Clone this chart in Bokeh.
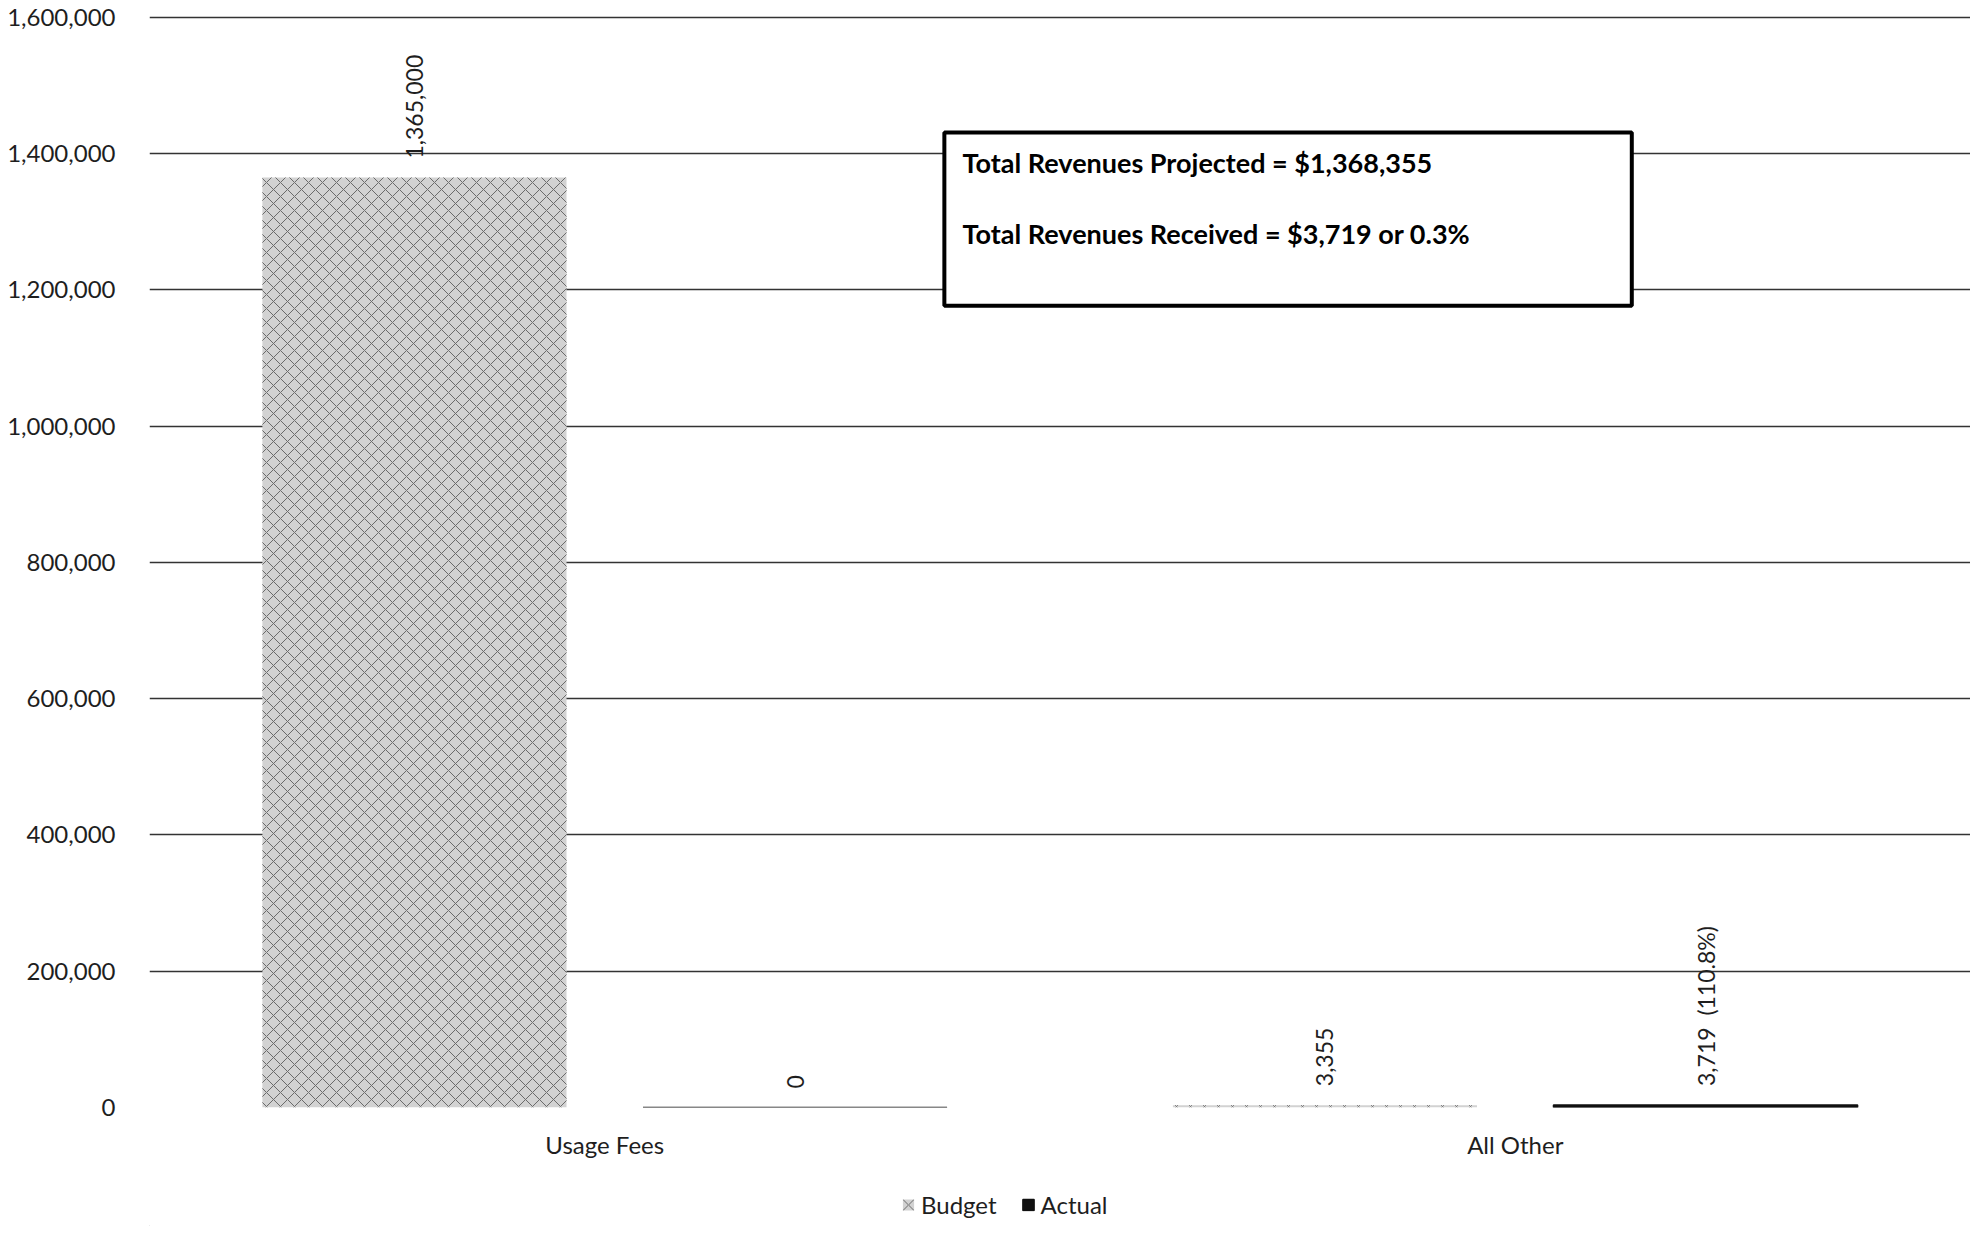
import math
from bokeh.plotting import figure
from bokeh.layouts import column
from bokeh.models import (ColumnDataSource, FactorRange, Range1d, FixedTicker,
                          NumeralTickFormatter, Legend, LegendItem, BoxAnnotation, Label)
from bokeh.transform import dodge
from bokeh.core.properties import value
from bokeh.embed import file_html
from bokeh.resources import INLINE

# ---- data ----
categories = ["Usage Fees", "All Other"]
series_names = ["Budget", "Actual"]
budget = [1365000, 3355]
actual = [0, 3719]
budget_labels = ["1,365,000", "3,355"]
actual_labels = ["0", "3,719\u00a0 (110.8%)"]
y_ticks = [0, 200000, 400000, 600000, 800000, 1000000, 1200000, 1400000, 1600000]
box_lines = ["Total Revenues Projected = $1,368,355",
             "Total Revenues Received = $3,719 or 0.3%"]

FONT = "Lato"
GRID = "#333333"
TXT = "#1e1e1e"

BUDGET_STYLE = dict(fill_color="#d2d2d2", line_color=None,
                    hatch_pattern="diagonal_cross", hatch_color="#6a6a6a",
                    hatch_scale=14, hatch_weight=1)
ACTUAL_STYLE = dict(fill_color="#111111", line_color="#111111", line_width=1.5)

src = ColumnDataSource(dict(cat=categories, budget=budget, actual=actual,
                            blab=budget_labels, alab=actual_labels))

p = figure(width=1970, height=1161, output_backend="svg", toolbar_location=None,
           x_range=FactorRange(*categories, range_padding=0),
           y_range=Range1d(0, 1620500),
           min_border_left=149, min_border_right=0, min_border_top=3, min_border_bottom=52)
p.outline_line_color = None
p.background_fill_color = "white"

OFF = 0.209
W = 0.334

p.vbar(x=dodge("cat", -OFF, range=p.x_range), top="budget", width=W, source=src, **BUDGET_STYLE)
p.vbar(x=dodge("cat", OFF, range=p.x_range), top="actual", width=W, source=src, **ACTUAL_STYLE)

lbl_kw = dict(angle=math.pi / 2, text_align="left", text_baseline="middle",
              text_font=value(FONT), text_font_size="23px", text_color=TXT,
              y_offset=-19, source=src)
p.text(x=dodge("cat", -OFF, range=p.x_range), y="budget", text="blab", **lbl_kw)
p.text(x=dodge("cat", OFF, range=p.x_range), y="actual", text="alab", **lbl_kw)

# axes
p.yaxis.ticker = FixedTicker(ticks=y_ticks)
p.yaxis.formatter = NumeralTickFormatter(format="0,0")
p.yaxis.axis_line_color = None
p.yaxis.major_tick_line_color = None
p.yaxis.minor_tick_line_color = None
p.yaxis.major_label_standoff = 28
p.yaxis.major_label_text_font = FONT
p.yaxis.major_label_text_font_size = "24px"
p.yaxis.major_label_text_color = TXT

p.xaxis.axis_line_color = None
p.xaxis.major_tick_line_color = None
p.xaxis.minor_tick_line_color = None
p.xaxis.major_label_standoff = 16
p.xaxis.major_label_text_font = FONT
p.xaxis.major_label_text_font_size = "24px"
p.xaxis.major_label_text_color = TXT

p.xgrid.grid_line_color = None
p.ygrid.ticker = FixedTicker(ticks=y_ticks)
p.ygrid.grid_line_color = GRID
p.ygrid.grid_line_width = 1.6

# text box annotation
box = BoxAnnotation(left=0.873, right=1.628, bottom=1177000, top=1431000,
                    fill_color="white", fill_alpha=1.0,
                    line_color="black", line_alpha=1.0, line_width=4)
p.add_layout(box)
for yv, t in zip([1387300, 1283300], box_lines):
    p.add_layout(Label(x=0.893, y=yv, text=t, text_font=FONT, text_font_size="27px",
                       text_font_style="bold", text_color="black", text_baseline="middle"))

# legend strip below the chart (legend renderers sit outside the visible range)
lg = figure(width=1970, height=65, output_backend="svg", toolbar_location=None,
            x_range=Range1d(0, 1), y_range=Range1d(0, 1),
            min_border_left=149, min_border_right=0, min_border_top=21, min_border_bottom=0)
lg.axis.visible = False
lg.grid.visible = False
lg.outline_line_color = None
proxy = ColumnDataSource(dict(x=[-10.0], top=[-10.0]))
r1 = lg.vbar(x="x", top="top", width=0.1, source=proxy, **BUDGET_STYLE)
r2 = lg.vbar(x="x", top="top", width=0.1, source=proxy, **ACTUAL_STYLE)
legend = Legend(items=[LegendItem(label=series_names[0], renderers=[r1]),
                       LegendItem(label=series_names[1], renderers=[r2])],
                orientation="horizontal", location="center_left",
                label_text_font=FONT, label_text_font_size="24px", label_text_color=TXT,
                glyph_width=14, glyph_height=14, label_standoff=6, spacing=24,
                padding=5, margin=752, border_line_color=None, background_fill_alpha=0)
lg.add_layout(legend)

layout = column(p, lg, spacing=0)
open("out.html", "w").write(file_html(layout, INLINE))
